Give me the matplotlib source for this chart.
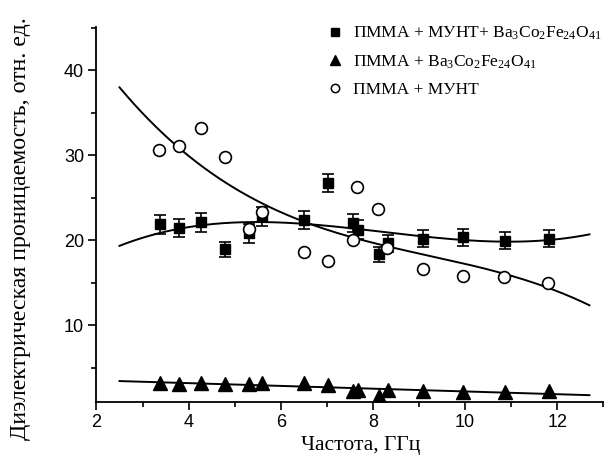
import numpy as np
import matplotlib
matplotlib.use("Agg")
import matplotlib.pyplot as plt
from matplotlib.ticker import MultipleLocator

plt.rcParams['mathtext.fontset'] = 'custom'
plt.rcParams['mathtext.rm'] = 'Liberation Serif'
plt.rcParams['mathtext.it'] = 'Liberation Serif:italic'

# ---- data ----
freq = [3.38, 3.79, 4.27, 4.79, 5.31, 5.60, 6.51, 7.03, 7.57, 7.67,
        8.13, 8.33, 9.09, 9.96, 10.86, 11.82]
eps_mix = [21.85, 21.4, 22.1, 18.9, 20.8, 22.8, 22.35, 26.7, 22.0, 21.2,
           18.3, 19.6, 20.15, 20.3, 19.9, 20.15]
err_mix = [1.1, 1.1, 1.1, 0.9, 1.1, 1.1, 1.1, 1.1, 1.1, 1.1,
           0.9, 1.0, 1.0, 1.0, 1.0, 1.0]
eps_ferrite = [3.2, 3.1, 3.2, 3.06, 3.1, 3.2, 3.2, 2.94, 2.3, 2.35,
               1.65, 2.35, 2.3, 2.1, 2.15, 2.3]
freq_cnt = [3.36, 3.79, 4.27, 4.79, 5.31, 5.60, 6.51, 7.03, 7.56, 7.66,
            8.11, 8.31, 9.09, 9.96, 10.84, 11.80]
eps_cnt = [30.6, 31.1, 33.2, 29.8, 21.3, 23.3, 18.6, 17.5, 20.0, 26.2,
           23.7, 19.1, 16.55, 15.8, 15.6, 15.0]

labels = [r'ПММА + МУНТ+ Ba$_3$Co$_2$Fe$_{24}$O$_{41}$',
          r'ПММА + Ba$_3$Co$_2$Fe$_{24}$O$_{41}$',
          'ПММА + МУНТ']
fit_range = (2.5, 12.7)

fig = plt.figure(figsize=(6.06, 4.57), dpi=100)
ax = fig.add_axes([0.1592, 0.1204, 0.8363, 0.8212])

xf = np.linspace(fit_range[0], fit_range[1], 200)
p_mix = np.polyfit(freq, eps_mix, 3)
p_fer = np.polyfit(freq, eps_ferrite, 1)
p_cnt = np.polyfit(freq_cnt, eps_cnt, 3)
for p in (p_mix, p_fer, p_cnt):
    ax.plot(xf, np.polyval(p, xf), color='black', lw=1.4, zorder=2)

h1 = ax.errorbar(freq, eps_mix, yerr=err_mix, fmt='s', color='black',
                 ms=7, capsize=4.5, elinewidth=1.2, capthick=1.2, zorder=3)
h2, = ax.plot(freq, eps_ferrite, '^', color='black', ms=9.5, ls='none', zorder=3)
h3, = ax.plot(freq_cnt, eps_cnt, 'o', mfc='white', mec='black', mew=1.2,
              ms=8.5, ls='none', zorder=4)

leg_h1, = ax.plot([], [], 's', color='black', ms=6)
leg_h2, = ax.plot([], [], '^', color='black', ms=7)
leg_h3, = ax.plot([], [], 'o', mfc='white', mec='black', mew=1.1, ms=6)
ax.legend([leg_h1, leg_h2, leg_h3], labels, loc='upper left',
          bbox_to_anchor=(318 / 606, 1 - 16 / 457), bbox_transform=fig.transFigure,
          frameon=False, handlelength=1.0, handletextpad=0.5, labelspacing=0.65,
          borderpad=0, prop={'family': 'Liberation Serif', 'size': 12.5})

ax.set_xlim(2, 13)
ax.set_ylim(0.95, 45.1)
ax.xaxis.set_major_locator(MultipleLocator(2))
ax.xaxis.set_minor_locator(MultipleLocator(1))
ax.yaxis.set_major_locator(MultipleLocator(10))
ax.yaxis.set_minor_locator(MultipleLocator(5))
ax.set_yticks([10, 20, 30, 40])
for s in ('top', 'right'):
    ax.spines[s].set_visible(False)
for s in ('left', 'bottom'):
    ax.spines[s].set_linewidth(1.3)
ax.tick_params(which='major', length=5.5, width=1.2, direction='out', labelsize=13)
ax.tick_params(which='minor', length=3.5, width=1.2, direction='out')
for lab in ax.get_xticklabels() + ax.get_yticklabels():
    lab.set_family('Liberation Sans')

ax.set_xlabel('Частота, ГГц', family='Liberation Serif', fontsize=15.5)
ax.xaxis.set_label_coords(0.521, -0.090)
ax.xaxis.label.set_va('top')

ax.set_ylabel('Диэлектрическая проницаемость, отн. ед.', family='Liberation Serif',
              fontsize=17.2, ha='left', va='center', rotation_mode='anchor')
ax.yaxis.set_label_coords(-0.150, -0.101)

fig.savefig('out.png', dpi=100)
